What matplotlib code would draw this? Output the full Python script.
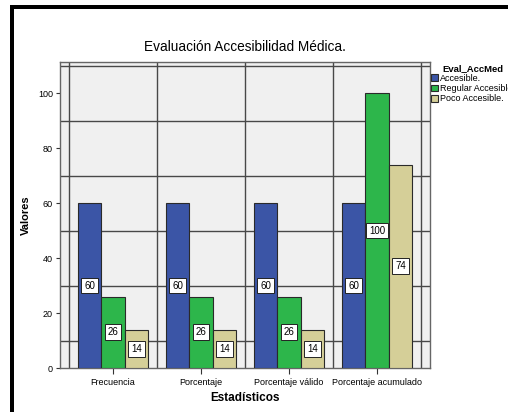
import numpy as np
import matplotlib.pyplot as plt
from matplotlib.patches import Rectangle

plt.rcParams['font.family'] = ['Liberation Sans', 'DejaVu Sans']

# Evaluación de accesibilidad médica por estadístico
estadisticos = ['Frecuencia', 'Porcentaje', 'Porcentaje válido', 'Porcentaje acumulado']
accesible = [60, 60, 60, 60]
regular = [26, 26, 26, 100]
poco = [14, 14, 14, 74]
categorias = ['Accesible.', 'Regular Accesible.', 'Poco Accesible.']
colores = ['#3B55A6', '#2DB64B', '#D5CF98']

W, H = 508, 412
fig = plt.figure(figsize=(W / 100, H / 100), dpi=100)
ax = fig.add_axes([60 / W, (H - 368) / H, 370 / W, 306 / H])
ax.set_facecolor('#F0F0F0')

x = np.arange(len(estadisticos))
width = 0.267
series = [accesible, regular, poco]
for k, (vals, col, lab) in enumerate(zip(series, colores, categorias)):
    pos = x + (k - 1) * width
    ax.bar(pos, vals, width, color=col, edgecolor='#2A2A2A', linewidth=0.8,
           label=lab, zorder=3)
    for px, v in zip(pos, vals):
        ax.text(px, v / 2, str(v), ha='center', va='center', fontsize=7,
                zorder=4,
                bbox=dict(boxstyle='square,pad=0.3', fc='white', ec='#222222', lw=0.7))

ax.set_xlim(-0.602, 3.602)
ax.set_ylim(0, 111.3)

# grid lines sit between the major ticks
ax.set_yticks(np.arange(0, 101, 20))
ax.set_yticks(np.arange(10, 111, 20), minor=True)
ax.set_xticks(x)
ax.set_xticks(np.arange(-0.5, 3.6, 1.0), minor=True)
ax.set_xticklabels(estadisticos)
ax.grid(which='minor', color='#484848', linewidth=1.0, zorder=1)
ax.tick_params(which='minor', length=0)
ax.tick_params(which='major', length=3, width=0.8, labelsize=6.5, pad=2, color='#333333')
ax.tick_params(axis='x', which='major', length=4, pad=3)
for s in ax.spines.values():
    s.set_color('#666666')
    s.set_linewidth(1.0)

ax.set_title('Evaluación Accesibilidad Médica.', fontsize=9.8, pad=8)
ax.set_ylabel('Valores', fontsize=8, fontweight='bold', labelpad=5)
ax.set_xlabel('Estadísticos', fontsize=8.5, fontweight='bold', labelpad=4)

leg = ax.legend(loc='upper left', bbox_to_anchor=(431 / W, (H - 64) / H),
                bbox_transform=fig.transFigure, frameon=False, fontsize=6.5,
                title='Eval_AccMed', handlelength=0.8, handleheight=0.8,
                handletextpad=0.15, labelspacing=0.12, borderpad=0, borderaxespad=0)
leg.get_title().set_fontweight('bold')
leg.get_title().set_fontsize(6.8)
leg._legend_box.align = 'left'
leg.get_title().set_position((11, 0))

# black frame along the top and left edge
fig.add_artist(Rectangle((10 / W, 0), 4 / W, (H - 5) / H, transform=fig.transFigure,
                         color='black', lw=0))
fig.add_artist(Rectangle((10 / W, (H - 9) / H), 1 - 10 / W, 4 / H,
                         transform=fig.transFigure, color='black', lw=0))

fig.savefig('out.png', dpi=100)
